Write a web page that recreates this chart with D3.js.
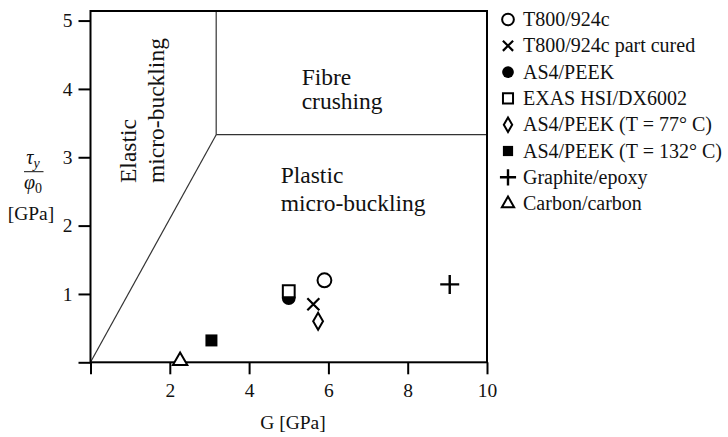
<!DOCTYPE html>
<html>
<head>
<meta charset="utf-8">
<script src="https://cdn.jsdelivr.net/npm/d3@7"></script>
<style>
  html, body { margin: 0; padding: 0; background: #fff; }
  svg { display: block; font-family: "Liberation Serif", "Times New Roman", serif; }
</style>
</head>
<body>
<svg id="chart" width="728" height="437"></svg>
<script>
// Compressive failure map: shear yield strength over misalignment vs shear modulus
const materials = [
  "T800/924c",
  "T800/924c part cured",
  "AS4/PEEK",
  "EXAS HSI/DX6002",
  "AS4/PEEK (T = 77° C)",
  "AS4/PEEK (T = 132° C)",
  "Graphite/epoxy",
  "Carbon/carbon"
];
const shearModulus = [5.9, 5.62, 5.0, 5.0, 5.74, 3.05, 9.06, 2.26];     // G [GPa]
const strengthRatio = [1.2, 0.85, 0.94, 1.04, 0.6, 0.32, 1.14, 0.02];   // tau_y / phi_0 [GPa]
const markerKinds = ["circle", "times", "dot", "square", "diamond", "block", "plus", "triangle"];

const xTicks = [0, 2, 4, 6, 8, 10];
const xTickLabels = ["", "2", "4", "6", "8", "10"];
const yTicks = [0, 1, 2, 3, 4, 5];
const yTickLabels = ["", "1", "2", "3", "4", "5"];

// Regime boundaries (corner where the three regions meet)
const cornerG = 3.17;
const cornerRatio = 3.33;
const xMax = 10;
const yMax = 5.14;

const svg = d3.select("#chart");
const x = d3.scaleLinear().domain([0, xMax]).range([90.5, 487]);
const y = d3.scaleLinear().domain([0, yMax]).range([362.3, 11]);

const fontSize = 19.5;

// Axes with outward ticks
const xAxis = d3.axisBottom(x).tickValues(xTicks)
  .tickFormat((d, i) => xTickLabels[i]).tickSize(12).tickSizeOuter(0).tickPadding(9);
const yAxis = d3.axisLeft(y).tickValues(yTicks)
  .tickFormat((d, i) => yTickLabels[i]).tickSize(12).tickSizeOuter(0).tickPadding(6);

function styleAxis(g) {
  g.select(".domain").remove();
  g.selectAll(".tick line").attr("stroke", "#000").attr("stroke-width", 2);
  g.selectAll(".tick text").attr("fill", "#111")
    .style("font-family", "'Liberation Serif', 'Times New Roman', serif")
    .style("font-size", fontSize + "px");
}

svg.append("g").attr("transform", `translate(0,${y(0)})`).call(xAxis).call(styleAxis);
svg.append("g").attr("transform", `translate(${x(0)},0)`).call(yAxis).call(styleAxis);

// Regime boundaries
const bounds = svg.append("g").attr("fill", "none").attr("stroke", "#333").attr("stroke-width", 1.2);
bounds.append("line").attr("x1", x(0)).attr("y1", y(0)).attr("x2", x(cornerG)).attr("y2", y(cornerRatio));
bounds.append("line").attr("x1", x(cornerG)).attr("y1", y(cornerRatio)).attr("x2", x(cornerG)).attr("y2", y(yMax));
bounds.append("line").attr("x1", x(cornerG)).attr("y1", y(cornerRatio)).attr("x2", x(xMax)).attr("y2", y(cornerRatio));

// Frame
svg.append("rect")
  .attr("x", x(0)).attr("y", y(yMax))
  .attr("width", x(xMax) - x(0)).attr("height", y(0) - y(yMax))
  .attr("fill", "none").attr("stroke", "#000").attr("stroke-width", 2);

// Region labels, each a two-line text block
const regionFont = 23.5;
const regions = svg.append("g").attr("fill", "#111").style("font-size", regionFont + "px");

function twoLines(text, lines, x0, lineGap) {
  lines.forEach((ln, i) => {
    text.append("tspan").attr("x", x0).attr("dy", i === 0 ? 0 : lineGap).text(ln);
  });
}

twoLines(regions.append("text").attr("y", 85), ["Fibre", "crushing"], 301.7, 23.5);
twoLines(regions.append("text").attr("y", 182.7), ["Plastic", "micro-buckling"], 280.7, 28);
twoLines(regions.append("text").attr("transform", "translate(136,183) rotate(-90)"),
  ["Elastic", "micro-buckling"], 0, 28);

// Axis titles
svg.append("text").attr("x", 293).attr("y", 429).attr("text-anchor", "middle")
  .attr("fill", "#111").style("font-size", fontSize + "px").text("G [GPa]");

const yTitle = svg.append("g").attr("fill", "#111");
const tau = yTitle.append("text").attr("x", 33).attr("y", 164).attr("text-anchor", "middle")
  .style("font-size", "20px");
tau.append("tspan").style("font-style", "italic").text("τ");
tau.append("tspan").attr("dy", 4).style("font-size", "14px").style("font-style", "italic").text("y");
yTitle.append("line").attr("x1", 24).attr("x2", 43.5).attr("y1", 171.7).attr("y2", 171.7)
  .attr("stroke", "#111").attr("stroke-width", 1);
const phi = yTitle.append("text").attr("x", 33).attr("y", 189).attr("text-anchor", "middle")
  .style("font-size", "20px");
phi.append("tspan").style("font-style", "italic").text("φ");
phi.append("tspan").attr("dy", 4).style("font-size", "14px").text("0");
yTitle.append("text").attr("x", 31).attr("y", 220).attr("text-anchor", "middle")
  .style("font-size", fontSize + "px").text("[GPa]");

// Thin stroked plus and times shapes; size is the half-length of each arm
const plusShape = {
  draw(ctx, r) { ctx.moveTo(-r, 0); ctx.lineTo(r, 0); ctx.moveTo(0, -r); ctx.lineTo(0, r); }
};
const timesShape = {
  draw(ctx, r) { ctx.moveTo(-r, -r); ctx.lineTo(r, r); ctx.moveTo(-r, r); ctx.lineTo(r, -r); }
};

// Marker shapes
const markerSpec = {
  circle:   { type: d3.symbolCircle,   size: 150, area: true, fill: "#fff", sw: 2 },
  times:    { type: timesShape,        size: 6,   area: false, fill: "none", sw: 2.2 },
  dot:      { type: d3.symbolCircle,   size: 150, area: true, fill: "#000", sw: 0 },
  square:   { type: d3.symbolSquare,   size: 140, area: true, fill: "#fff", sw: 2 },
  diamond:  { type: d3.symbolDiamond,  size: 84,  area: true, fill: "#fff", sw: 2 },
  block:    { type: d3.symbolSquare,   size: 144, area: true, fill: "#000", sw: 0 },
  plus:     { type: plusShape,         size: 9.5, area: false, fill: "none", sw: 2.4 },
  triangle: { type: d3.symbolTriangle, size: 90,  area: true, fill: "#fff", sw: 2 }
};

function drawMarker(sel, kind, scale) {
  const s = markerSpec[kind];
  const size = s.area ? s.size * scale * scale : s.size * scale;
  sel.append("path")
    .attr("d", d3.symbol().type(s.type).size(size)())
    .attr("fill", s.fill)
    .attr("stroke", s.sw ? "#000" : "none")
    .attr("stroke-width", s.sw)
    .attr("stroke-linejoin", "miter");
}

const points = svg.append("g");
materials.forEach((m, i) => {
  const g = points.append("g")
    .attr("transform", `translate(${x(shearModulus[i])},${y(strengthRatio[i])})`);
  drawMarker(g, markerKinds[i], 1);
});

// Legend
const legend = svg.append("g").attr("fill", "#111").style("font-size", "20px");
materials.forEach((m, i) => {
  const row = legend.append("g").attr("transform", `translate(508,${19.5 + 26.3 * i})`);
  drawMarker(row, markerKinds[i], 0.85);
  row.append("text").attr("x", 15).attr("y", 6.5).text(m);
});
</script>
</body>
</html>
